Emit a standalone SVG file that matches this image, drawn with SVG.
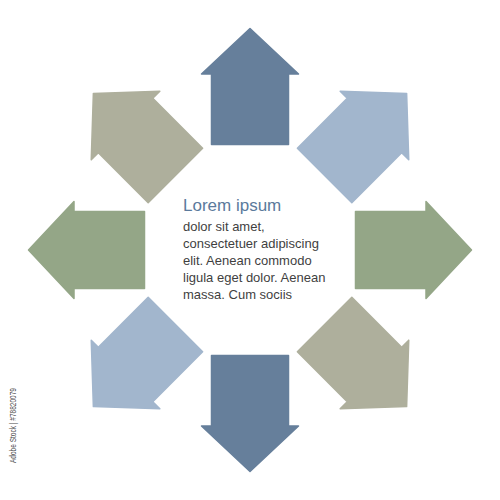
<svg xmlns="http://www.w3.org/2000/svg" xmlns:xlink="http://www.w3.org/1999/xlink" width="500" height="500" viewBox="0 0 500 500">
<style>
.a1{fill:#667f9b;stroke:#667f9b}
.a2{fill:#a2b6cd;stroke:#a2b6cd}
.a3{fill:#94a687;stroke:#94a687}
.a4{fill:#aeaf9c;stroke:#aeaf9c}
.arr{stroke-width:1.5;stroke-linejoin:round}
.title{font-family:"Liberation Sans",Arial,sans-serif;font-size:17px;fill:#5b7a9c}
.body{font-family:"Liberation Sans",Arial,sans-serif;font-size:13px;fill:#3f3f3f}
.wm{font-family:"Liberation Sans",Arial,sans-serif;font-size:8.5px;fill:#4a4a4a}
</style>
<defs>
<path id="arrow" d="M0,-221.5 L48.5,-176 L38.5,-176 L38.5,-105.5 L-38.5,-105.5 L-38.5,-176 L-48.5,-176 Z"/>
</defs>
<rect width="500" height="500" fill="#ffffff"/>
<g id="arrow-n"><use xlink:href="#arrow" class="arr a1" transform="translate(250 250)"/></g>
<g id="arrow-ne"><use xlink:href="#arrow" class="arr a2" transform="translate(250 250) rotate(45)"/></g>
<g id="arrow-e"><use xlink:href="#arrow" class="arr a3" transform="translate(250 250) rotate(90)"/></g>
<g id="arrow-se"><use xlink:href="#arrow" class="arr a4" transform="translate(250 250) rotate(135)"/></g>
<g id="arrow-s"><use xlink:href="#arrow" class="arr a1" transform="translate(250 250) rotate(180)"/></g>
<g id="arrow-sw"><use xlink:href="#arrow" class="arr a2" transform="translate(250 250) rotate(225)"/></g>
<g id="arrow-w"><use xlink:href="#arrow" class="arr a3" transform="translate(250 250) rotate(270)"/></g>
<g id="arrow-nw"><use xlink:href="#arrow" class="arr a4" transform="translate(250 250) rotate(315)"/></g>
<g id="center-text">
<text class="title" x="183" y="211">Lorem ipsum</text>
<text class="body" x="183" y="231">dolor sit amet,</text>
<text class="body" x="183" y="248">consectetuer adipiscing</text>
<text class="body" x="183" y="265">elit. Aenean commodo</text>
<text class="body" x="183" y="282">ligula eget dolor. Aenean</text>
<text class="body" x="183" y="299">massa. Cum sociis</text>
</g>
<text class="wm" transform="translate(16 463) rotate(-90)" textLength="75" lengthAdjust="spacingAndGlyphs">Adobe Stock | #78820079</text>
</svg>
